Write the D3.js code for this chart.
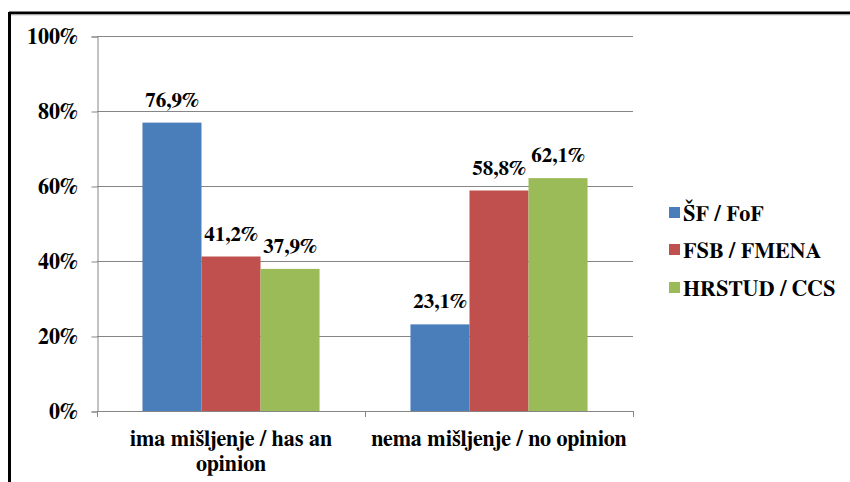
<!DOCTYPE html>
<html>
<head>
<meta charset="utf-8">
<script src="https://cdn.jsdelivr.net/npm/d3@7"></script>
<style>
  body { margin: 0; background: #fff; }
</style>
</head>
<body>
<svg id="chart" width="850" height="482"></svg>
<script>
// ---------------------------- DATA ----------------------------
const categories = [["ima mišljenje / has an", "opinion"], ["nema mišljenje / no opinion"]];
const seriesNames = ["ŠF / FoF", "FSB / FMENA", "HRSTUD / CCS"];
const seriesColors = ["#4a7ebb", "#c0504d", "#9bbb59"];
const hasOpinion = [76.9, 41.2, 37.9];
const noOpinion = [23.1, 58.8, 62.1];
const yTicks = [0, 20, 40, 60, 80, 100];

const values = [hasOpinion, noOpinion];
const fontStack = "'FreeSerif', 'Liberation Serif', serif";

// Apply the serif bold font to a text selection
function serif(sel, size) {
    sel.style("font-family", fontStack)
        .style("font-weight", "bold")
        .style("font-size", size + "px")
        .style("fill", "#000");
}

// ---------------------------- LAYOUT ----------------------------
const svg = d3.select("#chart");
const plotLeft = 97, plotRight = 633, plotTop = 36, plotBottom = 411;

// Frame: thick black line on top and left
svg.append("line").attr("x1", 9).attr("x2", 850).attr("y1", 13).attr("y2", 13)
    .attr("stroke", "#000").attr("stroke-width", 3);
svg.append("line").attr("x1", 9).attr("x2", 850).attr("y1", 15).attr("y2", 15)
    .attr("stroke", "#ccc").attr("stroke-width", 1);
svg.append("line").attr("x1", 9.5).attr("x2", 9.5).attr("y1", 12).attr("y2", 482)
    .attr("stroke", "#000").attr("stroke-width", 3);

const x0 = d3.scaleBand().domain(d3.range(categories.length)).range([plotLeft, plotRight]).paddingInner(0).paddingOuter(0);
const x1 = d3.scaleBand().domain(d3.range(seriesNames.length)).range([0, x0.bandwidth()]).paddingInner(0).paddingOuter(0.77);
const y = d3.scaleLinear().domain([0, 100]).range([plotBottom, plotTop]);

// Gridlines
svg.append("g").selectAll("line")
    .data(yTicks.filter(d => d > 0))
    .enter().append("line")
    .attr("x1", plotLeft).attr("x2", plotRight)
    .attr("y1", d => Math.round(y(d)) + 0.5).attr("y2", d => Math.round(y(d)) + 0.5)
    .attr("stroke", "#868686");

// Y axis
const yAxis = svg.append("g")
    .attr("transform", "translate(" + (plotLeft + 0.5) + ",0.5)")
    .call(d3.axisLeft(y).tickValues(yTicks).tickSize(6).tickPadding(14).tickFormat(d => d + "%"));
yAxis.select(".domain").attr("stroke", "#868686");
yAxis.selectAll(".tick line").attr("stroke", "#868686");
yAxis.selectAll("text").attr("dy", "0.3em").call(serif, 22);

// Bars
const groups = svg.append("g").selectAll("g")
    .data(values)
    .enter().append("g")
    .attr("transform", (d, i) => "translate(" + x0(i) + ",0)");

groups.selectAll("rect")
    .data(d => d)
    .enter().append("rect")
    .attr("x", (d, i) => x1(i))
    .attr("width", x1.bandwidth())
    .attr("y", d => y(d))
    .attr("height", d => plotBottom - y(d))
    .attr("fill", (d, i) => seriesColors[i]);

groups.selectAll("text")
    .data(d => d)
    .enter().append("text")
    .attr("x", (d, i) => x1(i) + x1.bandwidth() / 2)
    .attr("y", d => y(d) - 16)
    .attr("text-anchor", "middle")
    .call(serif, 21)
    .text(d => d3.format(".1f")(d).replace(".", ",") + "%");

// X axis line and category ticks
svg.append("line").attr("x1", plotLeft).attr("x2", plotRight).attr("y1", plotBottom + 0.5).attr("y2", plotBottom + 0.5)
    .attr("stroke", "#868686");
svg.append("g").selectAll("line")
    .data(d3.range(categories.length + 1))
    .enter().append("line")
    .attr("x1", d => plotLeft + d * x0.bandwidth() + 0.5).attr("x2", d => plotLeft + d * x0.bandwidth() + 0.5)
    .attr("y1", plotBottom).attr("y2", plotBottom + 6)
    .attr("stroke", "#868686");

// Category labels
svg.append("g").selectAll("text")
    .data(categories)
    .enter().append("text")
    .attr("text-anchor", "middle")
    .attr("x", (d, i) => x0(i) + x0.bandwidth() / 2)
    .attr("y", 446)
    .call(serif, 22)
    .selectAll("tspan")
    .data(d => d)
    .enter().append("tspan")
    .attr("x", function () { return this.parentNode.getAttribute("x"); })
    .attr("dy", (d, i) => i === 0 ? 0 : 25)
    .text(d => d);

// Legend
const legend = svg.append("g").attr("transform", "translate(669,0)");
const legendY = [213, 250, 288];
legend.selectAll("rect")
    .data(seriesNames)
    .enter().append("rect")
    .attr("x", 0).attr("y", (d, i) => legendY[i] - 6)
    .attr("width", 11).attr("height", 11)
    .attr("fill", (d, i) => seriesColors[i]);
legend.selectAll("text")
    .data(seriesNames)
    .enter().append("text")
    .attr("x", 14).attr("y", (d, i) => legendY[i])
    .attr("dy", "0.35em")
    .call(serif, 22)
    .text(d => d);
</script>
</body>
</html>
